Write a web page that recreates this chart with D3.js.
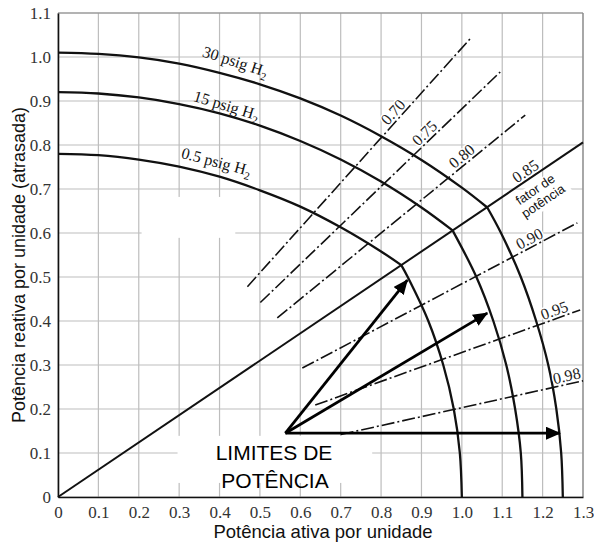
<!DOCTYPE html>
<html>
<head>
<meta charset="utf-8">
<script src="https://cdn.jsdelivr.net/npm/d3@7"></script>
<style>
  body { margin: 0; background: #fff; }
  svg { display: block; }
</style>
</head>
<body>
<svg id="grafico" width="594" height="543"></svg>
<script>
// ticks dos eixos
const xTicks = [0, 0.1, 0.2, 0.3, 0.4, 0.5, 0.6, 0.7, 0.8, 0.9, 1.0, 1.1, 1.2, 1.3];
const yTicks = [0, 0.1, 0.2, 0.3, 0.4, 0.5, 0.6, 0.7, 0.8, 0.9, 1.0, 1.1];

// curvas de capacidade (P, Q) - parte de cima (campo) e arco (armadura)
const curveNames = ['30 psig H', '15 psig H', '0.5 psig H'];
const upper30 = [[0, 1.01], [0.1, 1.007], [0.2, 0.999], [0.3, 0.985], [0.4, 0.964], [0.5, 0.938], [0.6, 0.906], [0.7, 0.867], [0.8, 0.82], [0.9, 0.766], [1.0, 0.703], [1.063, 0.658]];
const lower30 = [[1.063, 0.658], [1.097, 0.6], [1.146, 0.5], [1.184, 0.4], [1.214, 0.3], [1.234, 0.2], [1.246, 0.1], [1.25, 0]];
const upper15 = [[0, 0.92], [0.1, 0.917], [0.2, 0.908], [0.3, 0.893], [0.4, 0.872], [0.5, 0.844], [0.6, 0.809], [0.7, 0.767], [0.8, 0.717], [0.9, 0.658], [0.977, 0.606]];
const lower15 = [[0.977, 0.606], [1.036, 0.5], [1.078, 0.4], [1.11, 0.3], [1.132, 0.2], [1.146, 0.1], [1.15, 0]];
const upper05 = [[0, 0.78], [0.1, 0.777], [0.2, 0.767], [0.3, 0.751], [0.4, 0.728], [0.5, 0.697], [0.6, 0.66], [0.7, 0.613], [0.8, 0.558], [0.85, 0.527]];
const lower05 = [[0.85, 0.527], [0.866, 0.5], [0.917, 0.4], [0.954, 0.3], [0.98, 0.2], [0.995, 0.1], [1.0, 0]];

// linhas de fator de potencia (inicio e fim)
const pfLabels = ['0.70', '0.75', '0.80', '0.85', '0.90', '0.95', '0.98'];
const pfStart = [[0.469, 0.478], [0.501, 0.442], [0.543, 0.407], [0, 0], [0.605, 0.293], [0.637, 0.209], [0.70, 0.142]];
const pfEnd = [[1.021, 1.042], [1.095, 0.966], [1.157, 0.868], [1.3, 0.806], [1.286, 0.623], [1.293, 0.425], [1.30, 0.264]];
const pfLabelX = [0.845, 0.922, 1.013, 1.169, 1.177, 1.236, 1.264];

// setas "limites de potencia"
const arrowFrom = [0.563, 0.145];
const arrowTo = [[0.865, 0.493], [1.063, 0.418], [1.243, 0.145]];

const W = 594, H = 543;
const margin = { top: 13, right: 11, bottom: 46, left: 58 };

const svg = d3.select('#grafico');

const x = d3.scaleLinear().domain([0, 1.3]).range([margin.left, W - margin.right]);
const y = d3.scaleLinear().domain([0, 1.1]).range([H - margin.bottom, margin.top]);

const serif = '"Liberation Serif", "Times New Roman", serif';
const sans = '"Liberation Sans", Arial, sans-serif';

// griglia
svg.append('g').selectAll('line').data(xTicks).join('line')
  .attr('x1', d => x(d)).attr('x2', d => x(d))
  .attr('y1', y(0)).attr('y2', y(1.1))
  .attr('stroke', '#bdbdbd').attr('stroke-width', 1.2);
svg.append('g').selectAll('line').data(yTicks).join('line')
  .attr('x1', x(0)).attr('x2', x(1.3))
  .attr('y1', d => y(d)).attr('y2', d => y(d))
  .attr('stroke', '#bdbdbd').attr('stroke-width', 1.2);

// buchi bianchi della scansione originale
const masks = [
  { x0: 0.207, x1: 0.439, y0: 0.589, y1: 0.682 },
  { x0: 0.296, x1: 0.778, y0: 0.032, y1: 0.139 }
];
svg.append('g').selectAll('rect').data(masks).join('rect')
  .attr('x', d => x(d.x0)).attr('y', d => y(d.y1))
  .attr('width', d => x(d.x1) - x(d.x0)).attr('height', d => y(d.y0) - y(d.y1))
  .attr('fill', '#fff');

// bordo superiore e destro
svg.append('line').attr('x1', x(0)).attr('x2', x(1.3)).attr('y1', y(1.1)).attr('y2', y(1.1))
  .attr('stroke', '#888').attr('stroke-width', 1.2);
svg.append('line').attr('x1', x(1.3)).attr('x2', x(1.3)).attr('y1', y(0)).attr('y2', y(1.1))
  .attr('stroke', '#888').attr('stroke-width', 1.2);

// curve
const line = d3.line().x(d => x(d[0])).y(d => y(d[1])).curve(d3.curveCatmullRom.alpha(0.5));
[upper30, lower30, upper15, lower15, upper05, lower05].forEach(function (c) {
  svg.append('path').attr('d', line(c))
    .attr('fill', 'none').attr('stroke', '#111').attr('stroke-width', 2.3);
});

// fattore di potenza
const pfG = svg.append('g');
pfLabels.forEach(function (lab, i) {
  const solid = lab === '0.85';
  pfG.append('line')
    .attr('x1', x(pfStart[i][0])).attr('y1', y(pfStart[i][1]))
    .attr('x2', x(pfEnd[i][0])).attr('y2', y(pfEnd[i][1]))
    .attr('stroke', '#111')
    .attr('stroke-width', solid ? 2 : 1.6)
    .attr('stroke-dasharray', solid ? null : '13,3,2,3');
});
pfLabels.forEach(function (lab, i) {
  const x1 = x(pfStart[i][0]), y1 = y(pfStart[i][1]);
  const x2 = x(pfEnd[i][0]), y2 = y(pfEnd[i][1]);
  const t = (x(pfLabelX[i]) - x1) / (x2 - x1);
  const px = x1 + t * (x2 - x1), py = y1 + t * (y2 - y1);
  const ang = Math.atan2(y2 - y1, x2 - x1) * 180 / Math.PI;
  pfG.append('text')
    .attr('transform', 'translate(' + px + ',' + py + ') rotate(' + ang + ')')
    .attr('y', -3)
    .attr('text-anchor', 'middle')
    .attr('font-family', serif).attr('font-size', 16)
    .attr('fill', '#222')
    .attr('stroke', '#fff').attr('stroke-width', 3).attr('paint-order', 'stroke')
    .text(lab);
});

// "fator de potencia"
const angPf = Math.atan2(y(pfEnd[3][1]) - y(0), x(pfEnd[3][0]) - x(0)) * 180 / Math.PI;
const fg = svg.append('g')
  .attr('transform', 'translate(' + x(1.192) + ',' + y(0.685) + ') rotate(' + angPf + ')');
fg.append('rect').attr('x', -30).attr('y', -14).attr('width', 60).attr('height', 29).attr('fill', '#fff');
fg.append('text').attr('text-anchor', 'middle').attr('y', -3)
  .attr('font-family', sans).attr('font-size', 13).attr('fill', '#111').text('fator de');
fg.append('text').attr('text-anchor', 'middle').attr('y', 11)
  .attr('font-family', sans).attr('font-size', 13).attr('fill', '#111').text('potência');

// etichette curve
const curveLabelPos = [[0.439, 0.989, 18], [0.417, 0.889, 17], [0.392, 0.761, 15]];
curveNames.forEach(function (n, i) {
  const p = curveLabelPos[i];
  const t = svg.append('text')
    .attr('transform', 'translate(' + x(p[0]) + ',' + y(p[1]) + ') rotate(' + p[2] + ')')
    .attr('y', 5)
    .attr('text-anchor', 'middle')
    .attr('font-family', serif).attr('font-size', 16).attr('fill', '#111');
  t.append('tspan').text(n);
  t.append('tspan').attr('dy', 4).attr('font-size', 11).text('2');
});

// frecce
svg.append('defs').append('marker')
  .attr('id', 'punta').attr('markerUnits', 'userSpaceOnUse')
  .attr('markerWidth', 15).attr('markerHeight', 13)
  .attr('refX', 14).attr('refY', 6.5).attr('orient', 'auto')
  .append('path').attr('d', 'M0,0 L15,6.5 L0,13 Z').attr('fill', '#000');
arrowTo.forEach(function (d) {
  svg.append('line')
    .attr('x1', x(arrowFrom[0])).attr('y1', y(arrowFrom[1]))
    .attr('x2', x(d[0])).attr('y2', y(d[1]))
    .attr('stroke', '#000').attr('stroke-width', 2.8)
    .attr('marker-end', 'url(#punta)');
});

svg.append('text').attr('x', 274).attr('y', 460).attr('text-anchor', 'middle')
  .attr('font-family', sans).attr('font-size', 21).attr('fill', '#000').text('LIMITES DE');
svg.append('text').attr('x', 275).attr('y', 488).attr('text-anchor', 'middle')
  .attr('font-family', sans).attr('font-size', 21).attr('fill', '#000').text('POTÊNCIA');

// assi
const fmt = d => d === 0 ? '0' : d3.format('.1f')(d);
const xAxis = svg.append('g').attr('transform', 'translate(0,' + y(0) + ')')
  .call(d3.axisBottom(x).tickValues(xTicks).tickFormat(fmt).tickSize(0).tickPadding(9));
const yAxis = svg.append('g').attr('transform', 'translate(' + x(0) + ',0)')
  .call(d3.axisLeft(y).tickValues(yTicks).tickFormat(fmt).tickSize(0).tickPadding(7));
[xAxis, yAxis].forEach(function (a) {
  a.select('.domain').attr('stroke', '#111').attr('stroke-width', 1.6);
  a.selectAll('text').attr('font-family', serif).attr('font-size', 17).attr('fill', '#333');
});

svg.append('text').attr('x', 323).attr('y', 538).attr('text-anchor', 'middle')
  .attr('font-family', sans).attr('font-size', 18.5).attr('fill', '#111')
  .text('Potência ativa por unidade');
svg.append('text').attr('transform', 'translate(25,265) rotate(-90)').attr('text-anchor', 'middle')
  .attr('font-family', sans).attr('font-size', 18).attr('fill', '#111')
  .text('Potência reativa por unidade (atrasada)');
</script>
</body>
</html>
